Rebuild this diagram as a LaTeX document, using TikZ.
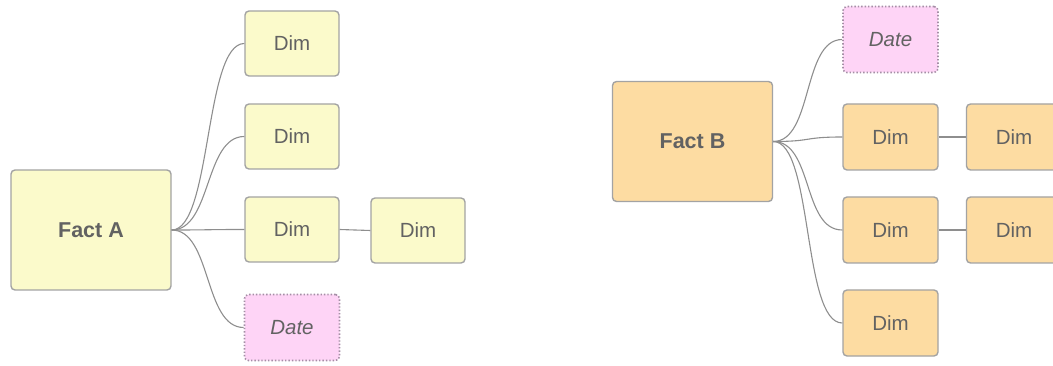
\documentclass[tikz,border=0pt]{standalone}
\usepackage{fontspec}
\setmainfont{Liberation Sans}
\definecolor{ylw}{HTML}{FBFACB}
\definecolor{org}{HTML}{FDDCA2}
\definecolor{pnk}{HTML}{FED4F6}
\definecolor{bord}{HTML}{A3A3A3}
\definecolor{dbord}{HTML}{A58FA6}
\definecolor{txt}{HTML}{626262}
\definecolor{lnk}{HTML}{8E8E8E}
\begin{document}
\begin{tikzpicture}[x=1pt,y=-1pt,
  box/.style={draw=bord,line width=1.4pt,rounded corners=4pt,text=txt,font=\fontsize{20.5}{24}\selectfont,inner sep=0pt},
  fact/.style={box,minimum width=160pt,minimum height=120pt,font=\fontsize{21.5}{24}\selectfont\bfseries},
  dimy/.style={box,fill=ylw,minimum width=94pt,minimum height=65pt},
  dimo/.style={box,fill=org,minimum width=95pt,minimum height=66pt},
  datebox/.style={box,fill=pnk,draw=dbord,dotted,line width=1.6pt,minimum width=95pt,minimum height=66pt,font=\fontsize{20.5}{24}\selectfont\itshape},
  link/.style={draw=lnk,line width=1.1pt}]
\useasboundingbox (0,0) rectangle (1053,366);
\begin{scope}
\clip (0,0) rectangle (1053,366);
% left group
\node[fact,fill=ylw] (fa) at (91,230) {Fact A};
\node[dimy] (a1) at (292,43.5) {Dim};
\node[dimy] (a2) at (292,136.5) {Dim};
\node[dimy] (a3) at (292,229.5) {Dim};
\node[dimy] (a4) at (418,230.5) {Dim};
\node[datebox] (ad) at (292,327.5) {Date};
% right group
\node[fact,fill=org] (fb) at (692.5,141.5) {Fact B};
\node[datebox] (bd) at (890.5,39.5) {Date};
\node[dimo] (b1) at (890.5,137) {Dim};
\node[dimo] (b1r) at (1014,137) {Dim};
\node[dimo] (b2) at (890.5,230) {Dim};
\node[dimo] (b2r) at (1014,230) {Dim};
\node[dimo] (b3) at (890.5,323) {Dim};
% links
\foreach \t in {a1,a2,a3,ad}
  \draw[link] (fa.east) .. controls +(40,0) and +(-40,0) .. (\t.west);
\draw[link] (a3.east) -- (a4.west);
\foreach \t in {bd,b1,b2,b3}
  \draw[link] (fb.east) .. controls +(40,0) and +(-40,0) .. (\t.west);
\draw[link] (b1.east) -- (b1r.west);
\draw[link] (b2.east) -- (b2r.west);
\end{scope}
\end{tikzpicture}
\end{document}
